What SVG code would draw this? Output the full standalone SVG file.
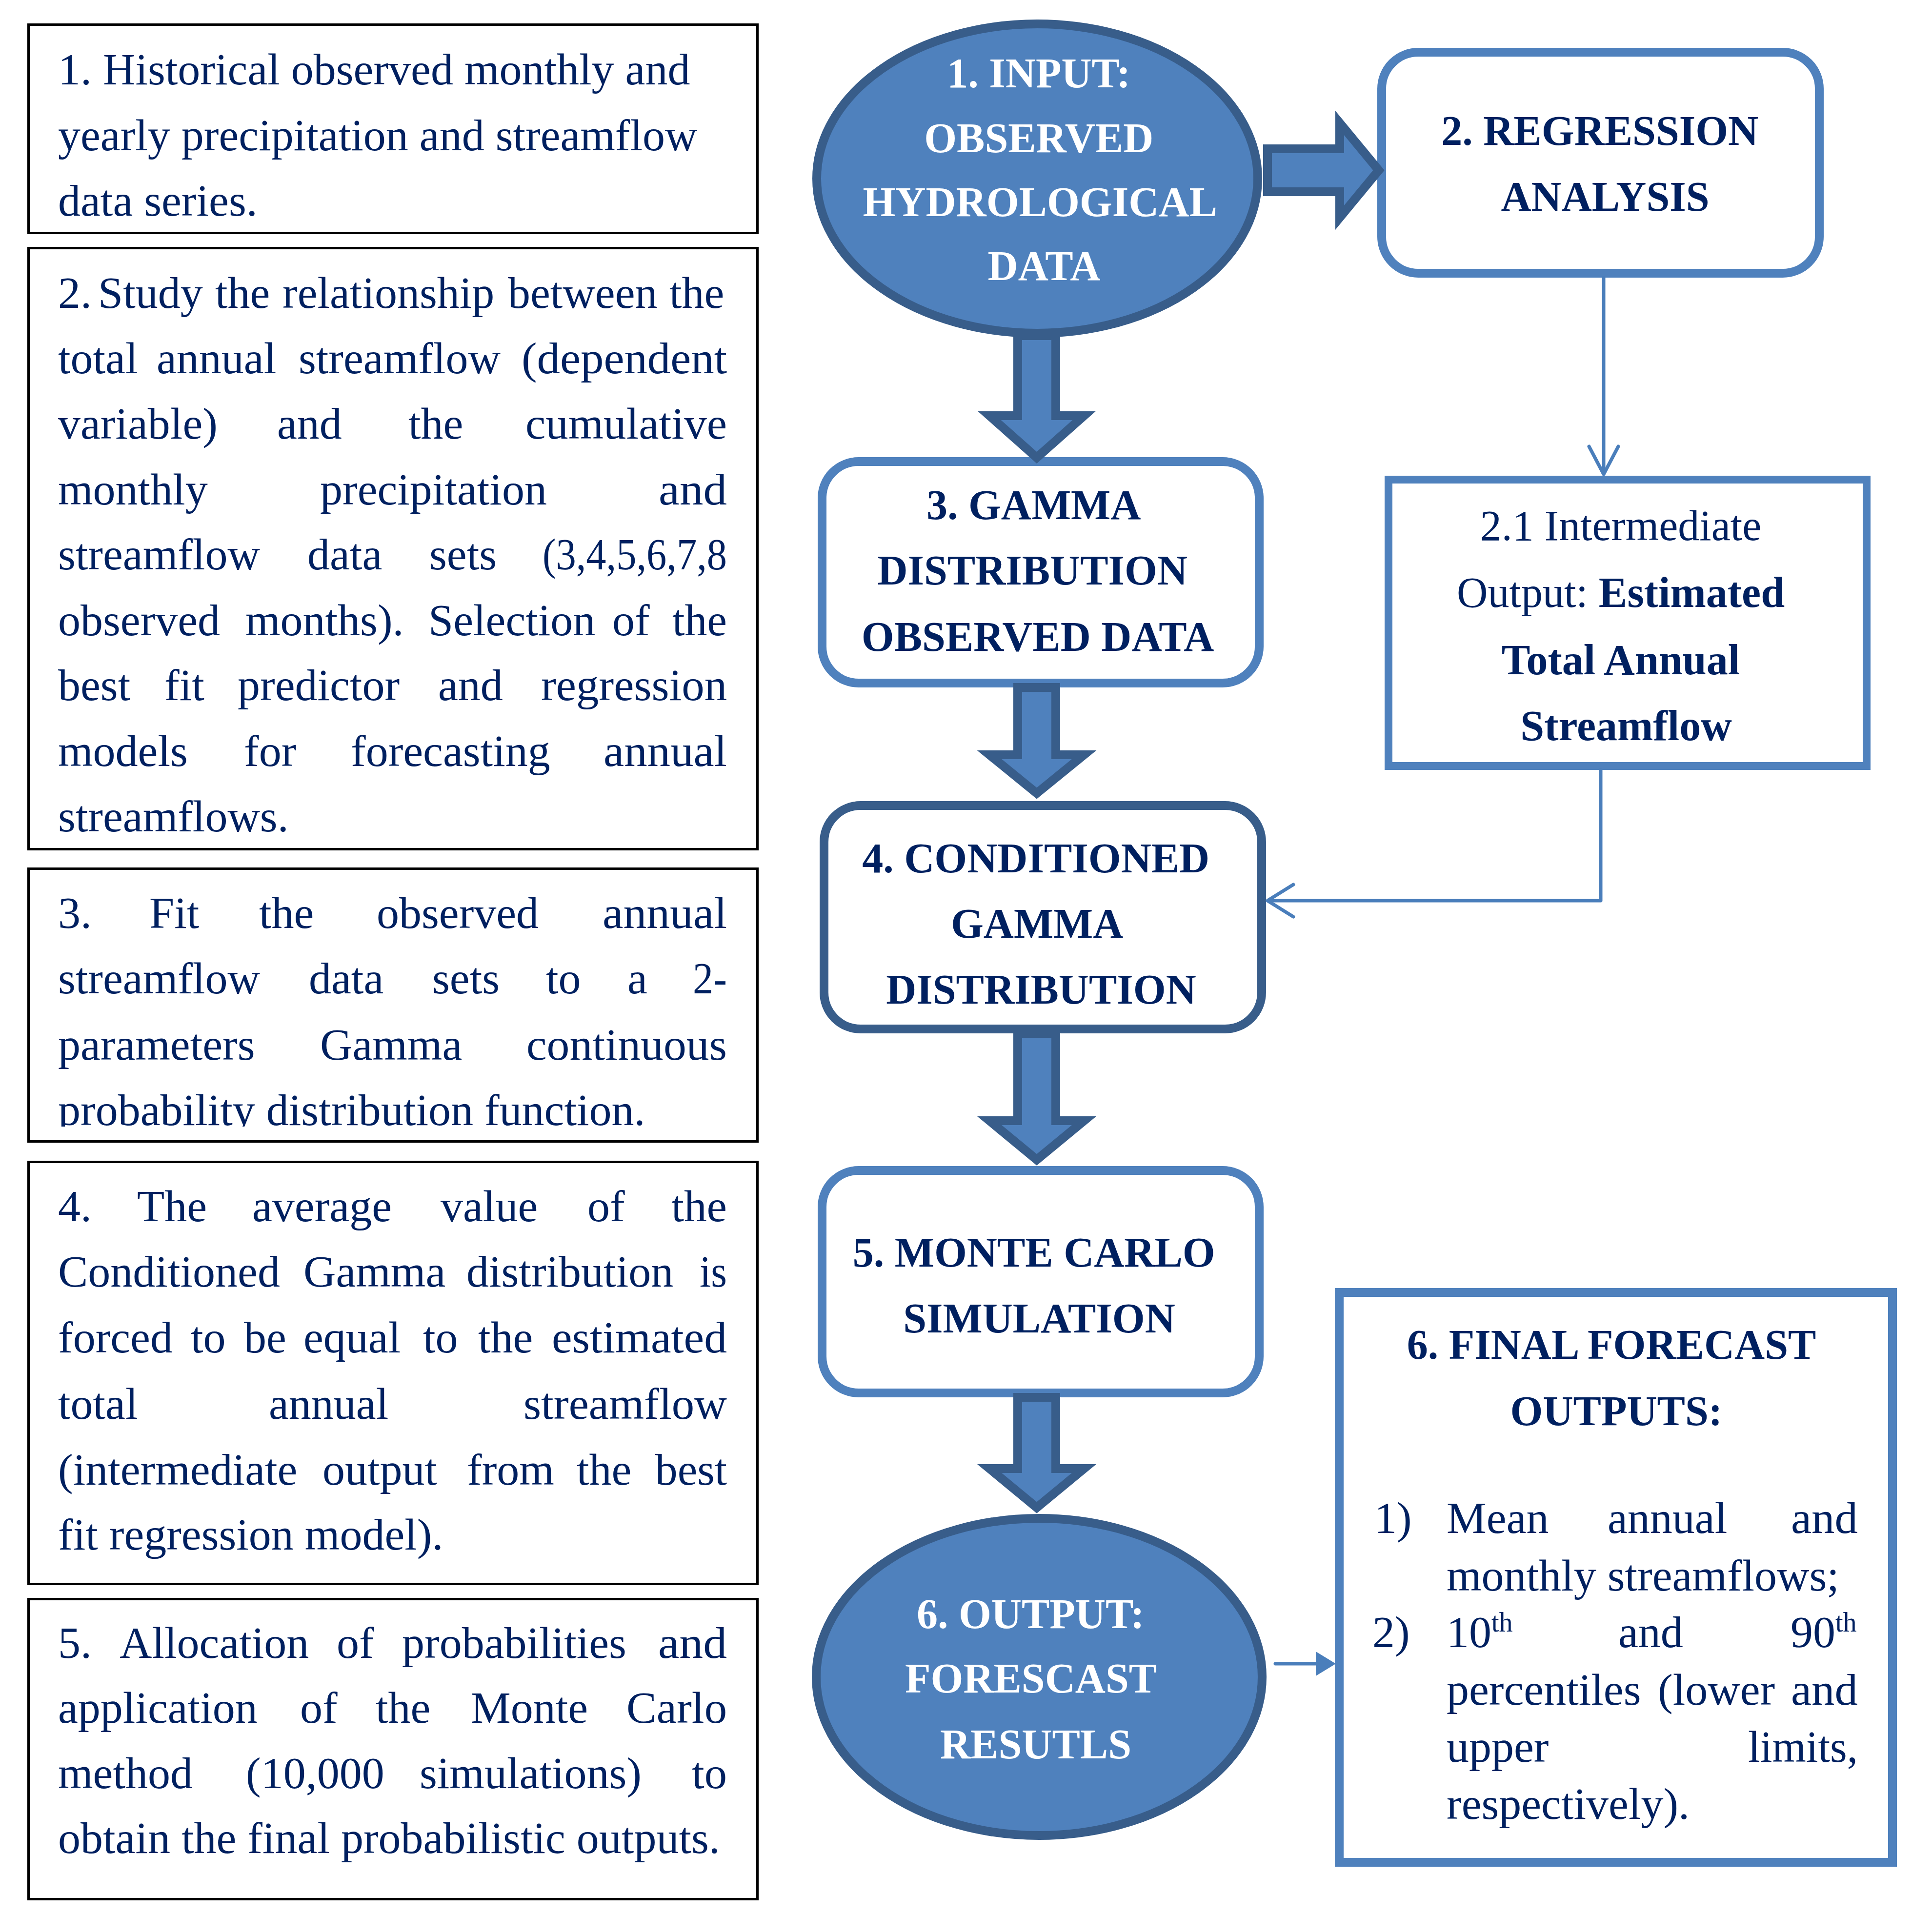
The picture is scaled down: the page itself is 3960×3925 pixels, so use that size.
<svg xmlns="http://www.w3.org/2000/svg" width="3960" height="3925" viewBox="0 0 3960 3925">
<style>
.lbox{fill:#fff;stroke:#000;stroke-width:5}
.body{font-family:"Liberation Serif","Times New Roman",serif;font-size:92px;fill:#002060}
.b21{font-family:"Liberation Serif","Times New Roman",serif;font-size:88px;fill:#002060;text-anchor:middle}
.ttl{font-family:"Liberation Serif","Times New Roman",serif;font-weight:bold;font-size:86px;fill:#002060;text-anchor:middle}
.wt{fill:#fff}
.bd{font-weight:bold}
.rbox{fill:#fff;stroke:#4F81BD;stroke-width:18}
.dark{stroke:#385D8A}
.ell{fill:#4F81BD;stroke:#385D8A;stroke-width:18}
.blk{fill:#4F81BD;stroke:#385D8A;stroke-width:18;stroke-linejoin:miter}
.thin{fill:none;stroke:#4A7EBB;stroke-width:7;stroke-linecap:round;stroke-linejoin:round}
.head{fill:#4A7EBB}
</style>
<defs>
<clipPath id="clip3"><rect x="0" y="1778" width="1600" height="531"/></clipPath>
</defs>
<rect width="3960" height="3925" fill="#fff"/>

<g id="desc1">
<rect class="lbox" x="58.5" y="50.5" width="1494" height="427"/>
<text class="body">
<tspan x="119" y="173">1. Historical observed monthly and</tspan>
<tspan x="119" y="308">yearly precipitation and streamflow</tspan>
<tspan x="119" y="442">data series.</tspan>
</text>
</g>

<g id="desc2">
<rect class="lbox" x="58.5" y="508.5" width="1494" height="1232"/>
<text class="body">
<tspan x="119" y="631">2.</tspan><tspan x="201">Study</tspan><tspan x="441">the</tspan><tspan x="579">relationship</tspan><tspan x="1041">between</tspan><tspan x="1372">the</tspan>
<tspan x="119" y="765">total</tspan><tspan x="321">annual</tspan><tspan x="612">streamflow</tspan><tspan x="1069" textLength="421" lengthAdjust="spacingAndGlyphs">(dependent</tspan>
<tspan x="119" y="899">variable)</tspan><tspan x="568">and</tspan><tspan x="837">the</tspan><tspan x="1077" textLength="413" lengthAdjust="spacingAndGlyphs">cumulative</tspan>
<tspan x="119" y="1034">monthly</tspan><tspan x="656">precipitation</tspan><tspan x="1350" textLength="140" lengthAdjust="spacingAndGlyphs">and</tspan>
<tspan x="119" y="1167">streamflow</tspan><tspan x="630">data</tspan><tspan x="880">sets</tspan><tspan x="1112" textLength="378" lengthAdjust="spacingAndGlyphs">(3,4,5,6,7,8</tspan>
<tspan x="119" y="1302">observed</tspan><tspan x="503">months).</tspan><tspan x="878">Selection</tspan><tspan x="1255">of</tspan><tspan x="1378" textLength="112" lengthAdjust="spacingAndGlyphs">the</tspan>
<tspan x="119" y="1435">best</tspan><tspan x="337">fit</tspan><tspan x="487">predictor</tspan><tspan x="898">and</tspan><tspan x="1109" textLength="381" lengthAdjust="spacingAndGlyphs">regression</tspan>
<tspan x="119" y="1570">models</tspan><tspan x="500">for</tspan><tspan x="719">forecasting</tspan><tspan x="1237" textLength="253" lengthAdjust="spacingAndGlyphs">annual</tspan>
<tspan x="119" y="1704">streamflows.</tspan>
</text>
</g>

<g id="desc3">
<rect class="lbox" x="58.5" y="1780.5" width="1494" height="559"/>
<text class="body" clip-path="url(#clip3)">
<tspan x="119" y="1902">3.</tspan><tspan x="306">Fit</tspan><tspan x="531">the</tspan><tspan x="772">observed</tspan><tspan x="1235" textLength="255" lengthAdjust="spacingAndGlyphs">annual</tspan>
<tspan x="119" y="2036">streamflow</tspan><tspan x="633">data</tspan><tspan x="886">sets</tspan><tspan x="1119">to</tspan><tspan x="1286">a</tspan><tspan x="1420" textLength="70" lengthAdjust="spacingAndGlyphs">2-</tspan>
<tspan x="119" y="2172">parameters</tspan><tspan x="656">Gamma</tspan><tspan x="1079" textLength="411" lengthAdjust="spacingAndGlyphs">continuous</tspan>
<tspan x="119" y="2306">probability distribution function.</tspan>
</text>
</g>

<g id="desc4">
<rect class="lbox" x="58.5" y="2381.5" width="1494" height="865"/>
<text class="body">
<tspan x="119" y="2503">4.</tspan><tspan x="281">The</tspan><tspan x="517">average</tspan><tspan x="903">value</tspan><tspan x="1204">of</tspan><tspan x="1376" textLength="114" lengthAdjust="spacingAndGlyphs">the</tspan>
<tspan x="119" y="2637">Conditioned</tspan><tspan x="622">Gamma</tspan><tspan x="956">distribution</tspan><tspan x="1434" textLength="56" lengthAdjust="spacingAndGlyphs">is</tspan>
<tspan x="119" y="2772">forced</tspan><tspan x="391">to</tspan><tspan x="500">be</tspan><tspan x="622">equal</tspan><tspan x="867">to</tspan><tspan x="980">the</tspan><tspan x="1131" textLength="359" lengthAdjust="spacingAndGlyphs">estimated</tspan>
<tspan x="119" y="2908">total</tspan><tspan x="551">annual</tspan><tspan x="1073" textLength="417" lengthAdjust="spacingAndGlyphs">streamflow</tspan>
<tspan x="119" y="3043">(intermediate</tspan><tspan x="661">output</tspan><tspan x="957">from</tspan><tspan x="1182">the</tspan><tspan x="1343" textLength="147" lengthAdjust="spacingAndGlyphs">best</tspan>
<tspan x="119" y="3176">fit regression model).</tspan>
</text>
</g>

<g id="desc5">
<rect class="lbox" x="58.5" y="3277.5" width="1494" height="615"/>
<text class="body">
<tspan x="119" y="3398">5.</tspan><tspan x="245">Allocation</tspan><tspan x="690">of</tspan><tspan x="824">probabilities</tspan><tspan x="1349" textLength="141" lengthAdjust="spacingAndGlyphs">and</tspan>
<tspan x="119" y="3531">application</tspan><tspan x="615">of</tspan><tspan x="770">the</tspan><tspan x="965">Monte</tspan><tspan x="1284" textLength="206" lengthAdjust="spacingAndGlyphs">Carlo</tspan>
<tspan x="119" y="3665">method</tspan><tspan x="504">(10,000</tspan><tspan x="860">simulations)</tspan><tspan x="1418" textLength="72" lengthAdjust="spacingAndGlyphs">to</tspan>
<tspan x="119" y="3798">obtain the final probabilistic outputs.</tspan>
</text>
</g>

<g id="n1-input">
<ellipse class="ell" cx="2126" cy="366" rx="452" ry="317"/>
<text class="ttl wt">
<tspan x="2140" y="179">1. INPUT:</tspan>
<tspan x="2140" y="312">OBSERVED</tspan>
<tspan x="2140" y="443">HYDROLOGICAL</tspan>
<tspan x="2140" y="574">DATA</tspan>
</text>
</g>

<g id="n2-regression">
<rect class="rbox" x="2832" y="107" width="897" height="453" rx="75" ry="75"/>
<text class="ttl">
<tspan x="3290" y="297">2. REGRESSION</tspan>
<tspan x="3290" y="432">ANALYSIS</tspan>
</text>
</g>

<g id="n21-intermediate">
<rect class="rbox" x="2846" y="983" width="980" height="587" style="stroke-width:16"/>
<text class="b21">
<tspan x="3333" y="1107">2.1 Intermediate</tspan>
<tspan x="3333" y="1244">Output: <tspan class="bd">Estimated</tspan></tspan>
<tspan class="bd" x="3333" y="1382">Total Annual</tspan>
<tspan class="bd" x="3333" y="1517">Streamflow</tspan>
</text>
</g>

<g id="n3-gamma">
<rect class="rbox" x="1685" y="946" width="896" height="454" rx="75" ry="75"/>
<text class="ttl">
<tspan x="2127" y="1064">3. GAMMA</tspan>
<tspan x="2127" y="1198">DISTRIBUTION</tspan>
<tspan x="2127" y="1334">OBSERVED DATA</tspan>
</text>
</g>

<g id="n4-conditioned">
<rect class="rbox dark" x="1689" y="1651" width="897" height="458" rx="75" ry="75"/>
<text class="ttl">
<tspan x="2134" y="1788">4. CONDITIONED</tspan>
<tspan x="2134" y="1922">GAMMA</tspan>
<tspan x="2134" y="2057">DISTRIBUTION</tspan>
</text>
</g>

<g id="n5-montecarlo">
<rect class="rbox" x="1685" y="2399" width="896" height="456" rx="75" ry="75"/>
<text class="ttl">
<tspan x="2130" y="2596">5. MONTE CARLO</tspan>
<tspan x="2130" y="2731">SIMULATION</tspan>
</text>
</g>

<g id="n6-output">
<ellipse class="ell" cx="2130" cy="3437" rx="457" ry="325"/>
<text class="ttl wt">
<tspan x="2123" y="3337">6. OUTPUT:</tspan>
<tspan x="2123" y="3469">FORESCAST</tspan>
<tspan x="2123" y="3604">RESUTLS</tspan>
</text>
</g>

<g id="n6-final">
<rect class="rbox" x="2745" y="2649" width="1134" height="1168"/>
<text class="ttl">
<tspan x="3313" y="2785">6. FINAL FORECAST</tspan>
<tspan x="3313" y="2921">OUTPUTS:</tspan>
</text>
<text class="body">
<tspan x="2817" y="3142">1)</tspan><tspan x="2965">Mean</tspan><tspan x="3295">annual</tspan><tspan x="3671" textLength="137" lengthAdjust="spacingAndGlyphs">and</tspan>
<tspan x="2965" y="3260">monthly streamflows;</tspan>
<tspan x="2813" y="3376">2)</tspan><tspan x="2965">10</tspan><tspan font-size="56" dy="-32">th</tspan><tspan x="3317" dy="32">and</tspan><tspan x="3670">90</tspan><tspan font-size="56" dy="-32">th</tspan>
<tspan x="2965" y="3494">percentiles</tspan><tspan x="3398">(lower</tspan><tspan x="3671" textLength="137" lengthAdjust="spacingAndGlyphs">and</tspan>
<tspan x="2965" y="3611">upper</tspan><tspan x="3583" textLength="225" lengthAdjust="spacingAndGlyphs">limits,</tspan>
<tspan x="2965" y="3728">respectively).</tspan>
</text>
</g>

<g id="connectors">
<polygon class="blk" points="2598,305 2746,305 2746,252 2826,349 2746,446 2746,393 2598,393"/>
<polygon class="blk" points="2086,688 2164,688 2164,852 2222,852 2125,938 2028,852 2086,852"/>
<polygon class="blk" points="2086,1409 2164,1409 2164,1547 2222,1547 2125,1626 2028,1547 2086,1547"/>
<polygon class="blk" points="2086,2118 2164,2118 2164,2297 2222,2297 2125,2377 2028,2297 2086,2297"/>
<polygon class="blk" points="2086,2864 2164,2864 2164,3010 2222,3010 2125,3090 2028,3010 2086,3010"/>
<path class="thin" d="M3287,569 V970"/>
<path class="thin" d="M3257,915 L3287,972 L3317,915"/>
<path class="thin" d="M3281,1578 V1846 H2600"/>
<path class="thin" d="M2651,1813 L2598,1846 L2651,1879"/>
<path class="thin" d="M2614,3410 H2700"/>
<polygon class="head" points="2697,3385 2738,3410 2697,3435"/>
</g>
</svg>
